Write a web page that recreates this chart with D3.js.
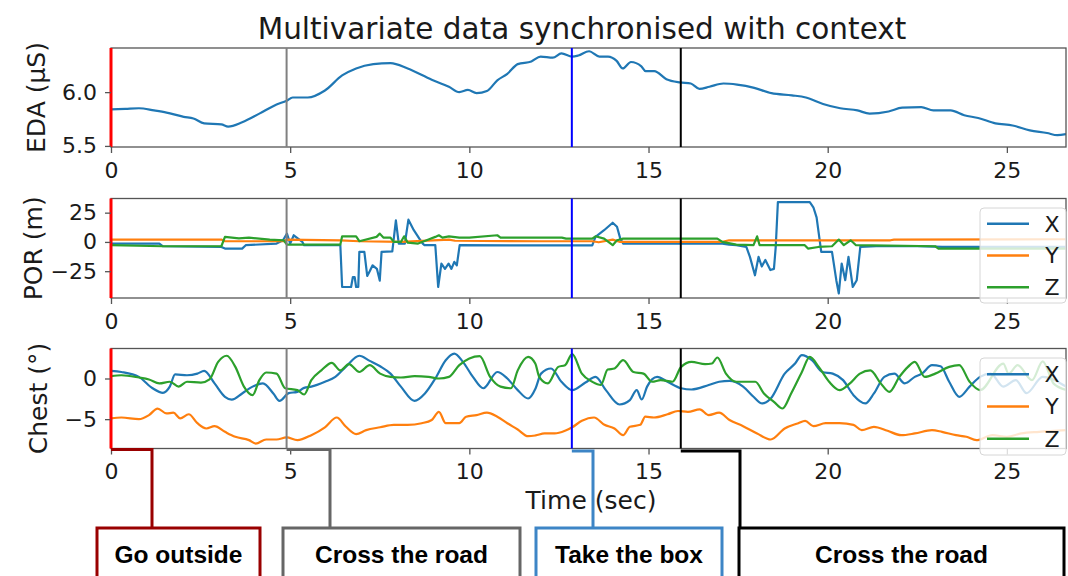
<!DOCTYPE html>
<html>
<head>
<meta charset="utf-8">
<script src="https://cdn.jsdelivr.net/npm/d3@7"></script>
<style>
  html, body { margin: 0; padding: 0; background: #fff; }
  svg { display: block; font-family: 'DejaVu Sans', sans-serif; }
</style>
</head>
<body>
<svg id="chart" width="1068" height="576"></svg>
<script>
// ---- data (time in sec) ----
const EDA = [
  [0,5.84],[0.4,5.845],[0.78,5.85],[1.2,5.83],[1.55,5.81],[2.03,5.77],[2.3,5.755],[2.6,5.71],[3.08,5.70],[3.27,5.68],[3.66,5.72],
  [4.14,5.80],[4.62,5.886],[4.9,5.92],[5.07,5.95],[5.49,5.95],[5.97,6.015],[6.45,6.155],[6.84,6.22],
  [7.32,6.26],[7.8,6.27],[8.28,6.22],[8.95,6.115],[9.43,6.05],[9.72,6.0],[9.96,6.02],[10.2,5.99],
  [10.49,6.01],[10.78,6.11],[11.06,6.17],[11.35,6.26],[11.73,6.285],[11.99,6.33],[12.33,6.32],
  [12.57,6.36],[12.87,6.33],[13.04,6.34],[13.34,6.38],[13.63,6.33],[13.87,6.33],[14.11,6.29],
  [14.28,6.22],[14.51,6.28],[14.8,6.24],[14.92,6.195],[15.16,6.195],[15.5,6.12],[15.88,6.09],
  [16.18,6.08],[16.42,6.03],[16.7,6.05],[17.09,6.08],[17.47,6.07],[17.95,6.04],[18.43,5.99],
  [19.0,5.97],[19.39,5.95],[19.87,5.89],[20.35,5.85],[20.83,5.83],[21.17,5.80],[21.7,5.82],
  [22.08,5.855],[22.61,5.86],[22.95,5.83],[23.43,5.83],[23.81,5.785],[24.2,5.76],[24.68,5.71],
  [25.16,5.69],[25.64,5.645],[26.12,5.62],[26.41,5.60],[26.65,5.61]
];

const POR_X = [
  [0,-1.4],[1.35,-1.4],[1.45,-3.7],[3.08,-4.3],[3.18,-5.7],[3.66,-5.7],[3.76,-2.8],[4.62,-1.4],
  [4.8,1.4],[4.91,7.1],[5.0,-1.4],[5.1,5.7],[5.34,0],[5.39,-2.8],[6.4,-2.8],[6.45,-38.5],
  [6.7,-38.5],[6.75,-30],[6.8,-30],[6.84,-38.5],[6.9,-38.5],[6.93,-8.5],[7.07,-8.5],[7.15,-29],
  [7.22,-25],[7.3,-20],[7.42,-23],[7.5,-33],[7.55,-8.5],[7.85,-8],[7.95,18.5],[8.03,-1.4],
  [8.2,-1.4],[8.3,19],[8.45,10],[8.6,3],[8.7,-1.4],[8.75,-2.8],[9.05,-2.8],[9.13,-38.5],
  [9.22,-18.5],[9.32,-23],[9.42,-18.5],[9.5,-23],[9.58,-17],[9.65,-20],[9.73,-2.8],[13.43,-3],
  [13.52,4.3],[13.76,10],[14.0,16.4],[14.12,13],[14.21,3],[14.29,-1.4],[17.06,-1.4],[17.25,-2.3],
  [17.45,-2.8],[17.73,-4.3],[17.83,-12.8],[17.97,-28.5],[18.07,-12.8],[18.16,-21],[18.26,-15.4],
  [18.4,-24],[18.5,-23],[18.55,-4.3],[18.61,34],[19.5,34],[19.6,29.6],[19.69,21],[19.82,-8.5],
  [20.12,-8.5],[20.24,-32.7],[20.31,-44],[20.39,-18.5],[20.49,-32.7],[20.58,-12.8],[20.7,-38.5],
  [20.81,-32.7],[20.91,-4.3],[21.5,-3.5],[22.5,-3.5],[23.2,-4.3],[26.65,-4.3]
];
const POR_Y = [
  [0,2],[3.08,2],[3.18,0.6],[4.82,0.6],[4.91,2],[6.4,1.4],[6.93,0.6],[8.1,0],[9.43,2],[9.6,1],
  [12.0,0.6],[13.43,0.6],[13.61,-0.3],[14.0,2],[14.21,0],[17.06,0],[17.25,1.4],[21.75,1.4],
  [21.85,2],[26.65,2.3]
];
const POR_Z = [
  [0,-2.8],[1.45,-3.7],[3.08,-3.7],[3.18,4.3],[3.57,3],[3.85,3.7],[4.43,2],[4.82,1.4],[4.91,-2.3],
  [6.4,-2.3],[6.45,4.8],[6.84,4.8],[6.93,0.6],[7.41,4.3],[7.5,7.1],[7.6,3.7],[7.8,3.7],[7.89,0],
  [8.09,0],[8.18,4.8],[8.28,-0.6],[8.57,-1.4],[8.86,2],[9.05,4.3],[9.15,5.7],[9.25,3.7],[9.43,4.8],
  [9.72,3.7],[10.0,3.7],[10.78,5.7],[10.87,3.7],[12.58,3.7],[12.7,2.8],[13.43,2.8],[13.52,4.8],
  [13.76,2.8],[14.0,-2.8],[14.12,1.4],[14.29,2.8],[16.92,2.8],[17.06,0],[17.45,-2.3],[17.93,-2.8],
  [18.03,4.8],[18.1,-2.8],[19.36,-2.8],[19.45,-5.7],[19.74,-4.3],[20.12,-3.7],[20.31,2],[20.45,-2.8],
  [20.64,1.4],[20.79,-2.8],[23.0,-3.7],[23.09,-5.7],[26.65,-5.7]
];

const CHEST_X = [
  [0,0.94],[0.29,0.8],[0.78,0.2],[1.16,-1.2],[1.45,-1.76],[1.64,-1.0],[1.79,0.5],[2.12,0.4],
  [2.41,0.6],[2.6,0.94],[2.89,-0.6],[3.18,-2.25],[3.37,-2.6],[3.66,-1.84],[3.95,-1.0],[4.24,-0.6],
  [4.53,-1.84],[4.7,-2.75],[4.96,-1.8],[5.2,-1.64],[5.39,-1.15],[5.59,-1.0],[5.97,-0.4],[6.26,0.2],
  [6.55,1.43],[6.93,2.8],[7.22,2.17],[7.51,1.5],[7.8,0.6],[8.09,-1.0],[8.47,-2.75],[8.76,-1.84],
  [9.05,0],[9.34,2.25],[9.58,3.07],[9.82,2.05],[10.1,0.2],[10.39,-1.2],[10.78,0.8],[11.06,0],
  [11.35,-1.43],[11.64,-2.46],[11.85,-1.2],[12.0,0.6],[12.28,1.23],[12.57,-0.4],[12.87,-1.43],
  [13.24,-0.5],[13.52,0.2],[13.81,-1.43],[14.19,-3.2],[14.48,-2.66],[14.67,-1.43],[14.81,-2.58],
  [14.96,-1.0],[15.24,0.2],[15.53,-0.4],[15.91,-1.2],[16.2,-1.35],[16.68,-0.8],[16.97,-0.4],
  [17.26,-0.3],[17.64,-1.0],[17.93,-2.25],[18.17,-3.07],[18.41,-2.46],[18.8,0.6],[19.09,1.84],
  [19.28,2.87],[19.56,2.25],[19.85,0.8],[20.14,0.6],[20.43,-0.2],[20.72,-2.05],[21.05,-3.07],
  [21.29,-1.84],[21.58,0.2],[21.86,0.6],[22.15,-0.6],[22.43,0.2],[22.63,0.6],[22.91,1.64],
  [23.15,1.5],[23.39,-0.4],[23.67,-2.25],[23.96,-1.0],[24.25,0.2],[24.55,0.6],[24.9,-1.0],
  [25.25,-0.2],[25.55,-1.8],[26.0,0.2],[26.65,-1.0]
];
const CHEST_Y = [
  [0,-4.9],[0.29,-4.8],[0.78,-5.0],[1.06,-4.5],[1.3,-3.7],[1.55,-4.3],[1.74,-4.2],[1.93,-4.9],
  [2.17,-4.4],[2.41,-5.5],[2.66,-6.15],[2.89,-5.86],[3.18,-6.56],[3.47,-7.17],[3.85,-7.58],
  [4.04,-8.0],[4.33,-7.5],[4.62,-7.5],[4.9,-7.25],[5.2,-7.58],[5.59,-6.97],[5.97,-6.0],[6.3,-4.8],
  [6.55,-5.9],[6.84,-6.84],[7.12,-6.35],[7.51,-6.0],[7.89,-5.7],[8.28,-5.7],[8.67,-5.5],[8.95,-5.1],
  [9.15,-4.1],[9.34,-5.5],[9.72,-5.5],[9.91,-4.7],[10.2,-4.5],[10.49,-4.2],[10.78,-4.7],[11.06,-5.5],
  [11.35,-6.27],[11.64,-7.1],[11.85,-7.0],[12.1,-6.76],[12.38,-6.76],[12.67,-6.43],[12.87,-6.0],
  [13.14,-5.2],[13.48,-4.8],[13.77,-5.7],[14.05,-6.15],[14.29,-6.97],[14.48,-5.94],[14.77,-5.7],
  [14.91,-4.7],[15.15,-4.8],[15.53,-4.4],[15.82,-4.0],[16.1,-4.1],[16.43,-3.8],[16.68,-4.5],
  [16.97,-4.2],[17.26,-5.1],[17.64,-5.86],[18.03,-6.76],[18.41,-7.5],[18.8,-6.15],[19.18,-5.5],
  [19.37,-5.2],[19.6,-5.86],[19.94,-5.5],[20.33,-5.5],[20.72,-5.7],[20.95,-6.35],[21.29,-5.94],
  [21.67,-6.43],[22.05,-6.97],[22.43,-6.76],[22.91,-6.35],[23.19,-6.56],[23.58,-6.97],[23.87,-7.17],
  [24.15,-7.58],[24.6,-6.97],[25.0,-7.17],[25.4,-6.76],[25.9,-6.56],[26.65,-6.35]
];
const CHEST_Z = [
  [0,0.29],[0.29,0.4],[0.78,0.12],[1.06,-0.12],[1.35,-0.6],[1.64,-0.4],[1.89,-1.0],[2.12,-0.4],
  [2.51,-0.5],[2.75,-0.1],[2.99,2.05],[3.23,2.8],[3.47,1.43],[3.71,-1.0],[3.95,-2.05],[4.14,-0.2],
  [4.33,0.74],[4.62,0.6],[4.86,-1.2],[5.2,-1.43],[5.39,-1.97],[5.59,-0.2],[5.87,1.0],[6.16,1.93],
  [6.4,1.0],[6.64,1.76],[6.93,0.8],[7.22,1.64],[7.51,0.6],[7.8,0.2],[8.09,0.12],[8.47,0.29],
  [8.86,0.2],[9.15,0],[9.43,0.2],[9.72,1.64],[10.0,2.46],[10.29,2.75],[10.58,0.2],[10.87,-1.0],
  [11.16,-1.2],[11.35,1.0],[11.64,2.66],[11.84,1.84],[11.95,0.2],[12.19,-0.6],[12.48,1.43],
  [12.67,1.64],[12.87,3.0],[13.14,0.6],[13.43,-0.4],[13.67,-0.8],[13.86,1.1],[14.05,1.23],
  [14.29,2.25],[14.58,0.8],[14.86,0.6],[15.1,-0.4],[15.34,-0.2],[15.67,-0.4],[15.91,1.43],
  [16.2,2.05],[16.58,1.76],[16.77,1.84],[16.92,2.58],[17.16,0.6],[17.45,-0.4],[17.74,-0.4],
  [17.98,-0.4],[18.22,-1.84],[18.5,-2.87],[18.74,-3.69],[18.98,-1.84],[19.28,0.8],[19.5,2.66],
  [19.75,1.43],[20.04,-0.4],[20.33,-1.43],[20.62,-0.6],[20.9,0.6],[21.19,1.0],[21.48,-0.6],
  [21.72,-1.64],[22.0,0.2],[22.24,1.43],[22.43,2.05],[22.71,0.2],[23.0,0.6],[23.39,1.43],
  [23.67,1.64],[23.96,-0.4],[24.25,-1.43],[24.9,1.84],[25.05,0.6],[25.3,1.64],[25.7,-0.2],
  [26.0,2.1],[26.3,-0.6],[26.65,-1.4]
];

const EVENT_TIMES  = [0, 4.9, 12.86, 15.9];
const EVENT_COLORS = ['#ff0000', '#808080', '#0000ff', '#000000'];
const ACTIVITIES   = ['Go outside', 'Cross the road', 'Take the box', 'Cross the road'];
const SERIES_NAMES = ['X', 'Y', 'Z'];
const SERIES_COLORS = ['#1f77b4', '#ff7f0e', '#2ca02c'];

// ---- layout ----
const W = 1068, H = 576;
const PLOT_L = 111, PLOT_R = 1066;
const TICK_FONT = 22, LABEL_FONT = 25;

const svg = d3.select('#chart');
svg.append('rect').attr('width', W).attr('height', H).attr('fill', '#fff');

const x = d3.scaleLinear().domain([0, 26.65]).range([PLOT_L, PLOT_R]);

const panels = [
  { top: 48,    bottom: 147,   domain: [5.49, 6.41],   ticks: [5.5, 6.0],  fmt: d3.format('.1f'),
    label: 'EDA (µS)',  labelX: 36, curve: d3.curveMonotoneX, series: [EDA], legend: null },
  { top: 198.5, bottom: 298,   domain: [-47.9, 37.1],  ticks: [-25, 0, 25], fmt: d3.format('d'),
    label: 'POR (m)',   labelX: 33, curve: d3.curveLinear, series: [POR_X, POR_Y, POR_Z], legend: { top: 208, bottom: 303 } },
  { top: 348.5, bottom: 448.5, domain: [-8.61, 3.69],  ticks: [-5, 0],     fmt: d3.format('d'),
    label: 'Chest (°)', labelX: 38, curve: d3.curveMonotoneX, series: [CHEST_X, CHEST_Y, CHEST_Z], legend: { top: 358, bottom: 455 } },
];

// title
svg.append('text')
  .attr('x', 582).attr('y', 39)
  .attr('text-anchor', 'middle')
  .attr('font-size', 29.5)
  .attr('fill', '#1a1a1a')
  .text('Multivariate data synchronised with context');

panels.forEach((p, i) => {
  const y = d3.scaleLinear().domain(p.domain).range([p.bottom, p.top]);
  const g = svg.append('g').attr('class', `panel panel-${i}`);

  g.append('clipPath').attr('id', `clip-${i}`)
    .append('rect')
    .attr('x', PLOT_L).attr('y', p.top)
    .attr('width', PLOT_R - PLOT_L).attr('height', p.bottom - p.top);

  const line = d3.line().curve(p.curve).x(d => x(d[0])).y(d => y(d[1]));
  const lineLayer = g.append('g').attr('clip-path', `url(#clip-${i})`);

  p.series.forEach((s, k) => {
    lineLayer.append('path')
      .datum(s)
      .attr('d', line)
      .attr('fill', 'none')
      .attr('stroke', SERIES_COLORS[k])
      .attr('stroke-width', 2.2)
      .attr('stroke-linejoin', 'round');
  });

  // frame
  g.append('rect')
    .attr('x', PLOT_L).attr('y', p.top)
    .attr('width', PLOT_R - PLOT_L).attr('height', p.bottom - p.top)
    .attr('fill', 'none').attr('stroke', '#555').attr('stroke-width', 1.3);

  // event markers (drawn over the frame)
  EVENT_TIMES.forEach((t, k) => {
    g.append('line')
      .attr('x1', x(t)).attr('x2', x(t))
      .attr('y1', p.top).attr('y2', p.bottom)
      .attr('stroke', EVENT_COLORS[k])
      .attr('stroke-width', k === 0 ? 3 : 2);
  });

  // axes
  const yAxis = g.append('g')
    .attr('transform', `translate(${PLOT_L},0)`)
    .call(d3.axisLeft(y).tickValues(p.ticks).tickFormat(p.fmt).tickSize(6).tickPadding(8));
  const xAxis = g.append('g')
    .attr('transform', `translate(0,${p.bottom})`)
    .call(d3.axisBottom(x).tickValues([0, 5, 10, 15, 20, 25]).tickSize(6).tickPadding(9));

  [yAxis, xAxis].forEach(ax => {
    ax.select('.domain').remove();
    ax.selectAll('.tick line').attr('stroke', '#555').attr('stroke-width', 1.3);
    ax.selectAll('.tick text')
      .attr('font-size', TICK_FONT)
      .attr('font-family', 'DejaVu Sans, sans-serif')
      .attr('fill', '#1a1a1a');
  });

  g.append('text')
    .attr('transform', `translate(${p.labelX},${(p.top + p.bottom) / 2}) rotate(-90)`)
    .attr('text-anchor', 'middle')
    .attr('dy', '0.35em')
    .attr('font-size', LABEL_FONT)
    .attr('fill', '#1a1a1a')
    .text(p.label);

  // legend
  if (p.legend) {
    const lg = g.append('g');
    const lx0 = 980, lx1 = 1066;
    lg.append('rect')
      .attr('x', lx0).attr('y', p.legend.top)
      .attr('width', lx1 - lx0).attr('height', p.legend.bottom - p.legend.top)
      .attr('rx', 4)
      .attr('fill', '#fff').attr('fill-opacity', 0.8)
      .attr('stroke', '#d6d6d6').attr('stroke-width', 1);
    const step = (p.legend.bottom - p.legend.top) / 3;
    SERIES_NAMES.forEach((name, k) => {
      const cy = p.legend.top + step * (k + 0.5);
      lg.append('line')
        .attr('x1', 987).attr('x2', 1029)
        .attr('y1', cy).attr('y2', cy)
        .attr('stroke', SERIES_COLORS[k]).attr('stroke-width', 2.5);
      lg.append('text')
        .attr('x', 1052).attr('y', cy)
        .attr('dy', '0.36em')
        .attr('text-anchor', 'middle')
        .attr('font-size', TICK_FONT)
        .attr('fill', '#1a1a1a')
        .text(name);
    });
  }
});

// x label
svg.append('text')
  .attr('x', 591).attr('y', 509)
  .attr('text-anchor', 'middle')
  .attr('font-size', LABEL_FONT)
  .attr('fill', '#1a1a1a')
  .text('Time (sec)');

// ---- activity boxes with elbow connectors ----
const BOX_COLORS = ['#990000', '#666666', '#3d85c6', '#000000'];
const boxes = [
  { x0: 97,  x1: 260, elbow: 152, ey: 449.5 },
  { x0: 283, x1: 520, elbow: 330, ey: 449.5 },
  { x0: 536, x1: 722, elbow: 593, ey: 451 },
  { x0: 739, x1: 1064, elbow: 740, ey: 451 },
];
const BOX_TOP = 528;

boxes.forEach((b, k) => {
  const bg = svg.append('g');
  bg.append('path')
    .attr('d', `M${x(EVENT_TIMES[k])},${b.ey} H${b.elbow} V${BOX_TOP}`)
    .attr('fill', 'none')
    .attr('stroke', BOX_COLORS[k])
    .attr('stroke-width', 3);
  bg.append('rect')
    .attr('x', b.x0).attr('y', BOX_TOP)
    .attr('width', b.x1 - b.x0).attr('height', 80)
    .attr('fill', '#fff')
    .attr('stroke', BOX_COLORS[k]).attr('stroke-width', 3);
  bg.append('text')
    .attr('x', (b.x0 + b.x1) / 2).attr('y', 554)
    .attr('dy', '0.35em')
    .attr('text-anchor', 'middle')
    .attr('font-family', 'Liberation Sans, Arial, sans-serif')
    .attr('font-weight', 'bold')
    .attr('font-size', 24.5)
    .attr('fill', '#000')
    .text(ACTIVITIES[k]);
});
</script>
</body>
</html>
